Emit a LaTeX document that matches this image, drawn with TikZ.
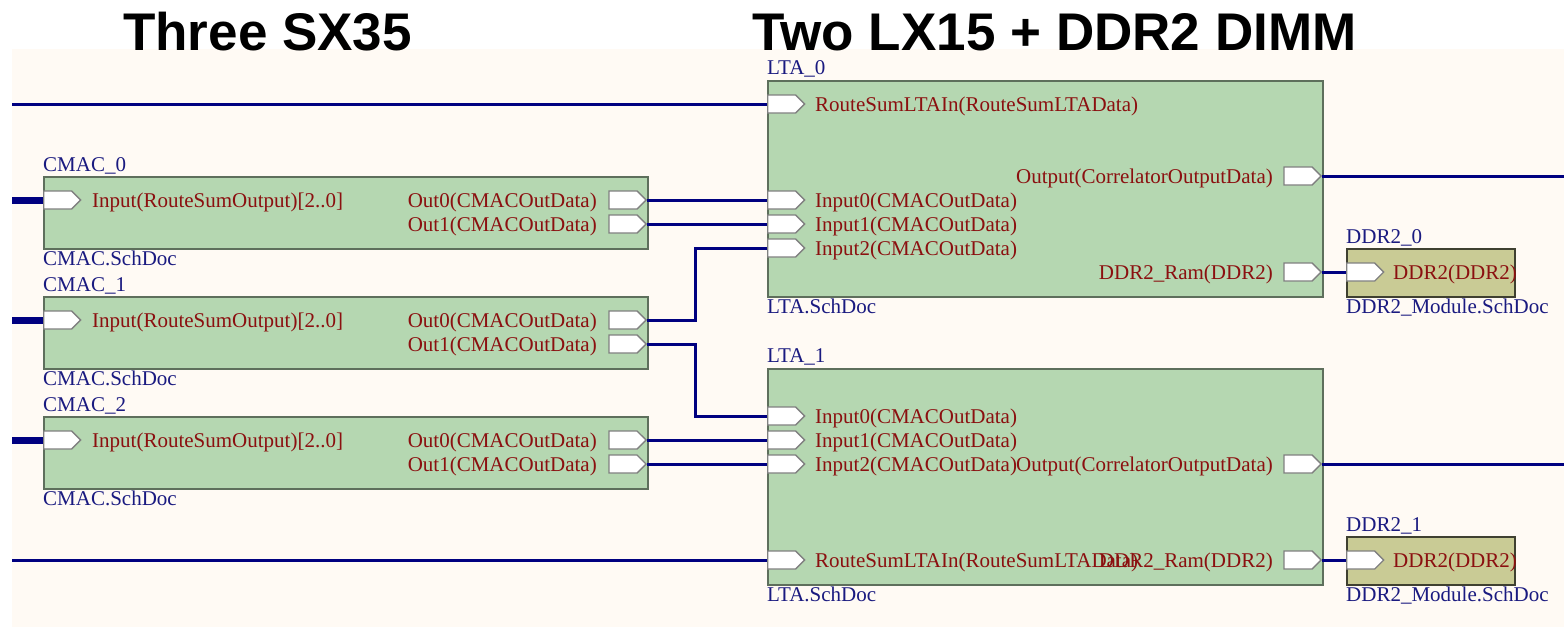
\documentclass[tikz,border=0pt]{standalone}
\usepackage{fontspec}
\setmainfont{Liberation Serif}
\newfontfamily\headfont{Liberation Sans}
\usetikzlibrary{shapes.symbols}

\definecolor{sheetbg}{HTML}{FFFAF4}
\definecolor{boxfill}{HTML}{B5D7B1}
\definecolor{boxline}{HTML}{5E6F5C}
\definecolor{ddrfill}{HTML}{C9CB95}
\definecolor{ddrline}{HTML}{3F4030}
\definecolor{portline}{HTML}{808080}
\definecolor{netblue}{HTML}{000080}
\definecolor{pinred}{HTML}{8B1010}
\definecolor{namenavy}{HTML}{1A1A80}

\begin{document}
\begin{tikzpicture}[x=1pt,y=-1pt,
  sheetbox/.style={draw=boxline, fill=boxfill, line width=1.8pt, inner sep=0pt,
    anchor=north west, minimum width=#1},
  cmacbox/.style={sheetbox=604pt, minimum height=72pt},
  ltabox/.style={sheetbox=555pt, minimum height=216pt},
  ddrbox/.style={draw=ddrline, fill=ddrfill, line width=1.8pt, inner sep=0pt,
    anchor=north west, minimum width=168pt, minimum height=48pt},
  port/.style={signal, signal to=east, signal pointer angle=90, draw=portline,
    fill=white, line width=1.3pt, inner sep=0pt, minimum width=37pt,
    minimum height=18pt},
  pintext/.style={text=pinred, inner sep=0pt, font=\fontsize{21}{21}\selectfont},
  sheetname/.style={text=namenavy, inner sep=0pt, anchor=base west,
    font=\fontsize{21}{21}\selectfont},
  heading/.style={inner sep=0pt, anchor=base west,
    font=\headfont\bfseries\fontsize{53}{53}\selectfont},
  wire/.style={draw=netblue, line width=3pt},
  bus/.style={draw=netblue, line width=7pt}
]
\useasboundingbox (0,0) rectangle (1564,627);
\fill[white] (0,0) rectangle (1564,627);
\fill[sheetbg] (12,49) rectangle (1564,627);

% headings
\node[heading] (headA) at (123,50) {Three SX35};
\node[heading] (headB) at (752,50) {Two LX15 + DDR2 DIMM};

% CMAC sheet symbols
\foreach \i in {0,1,2}{
  \pgfmathtruncatemacro\t{176+120*\i}
  \node[cmacbox] (cmac\i) at (43,\t) {};
  \node[sheetname] (cmac\i name) at (43,\t-5) {CMAC\_\i};
  \node[sheetname] (cmac\i file) at (43,\t+89) {CMAC.SchDoc};
  \node[port, anchor=west] (cmac\i in) at (43,\t+24) {};
  \node[pintext, anchor=base west] (cmac\i inT) at (92,\t+31) {Input(RouteSumOutput)[2..0]};
  \node[port, anchor=east] (cmac\i o0) at (647,\t+24) {};
  \node[port, anchor=east] (cmac\i o1) at (647,\t+48) {};
  \node[pintext, anchor=base east] (cmac\i o0T) at (597,\t+31) {Out0(CMACOutData)};
  \node[pintext, anchor=base east] (cmac\i o1T) at (597,\t+55) {Out1(CMACOutData)};
  \coordinate (bus\i) at (12,\t+24);
  \draw[bus] (bus\i) -- (cmac\i in.west);
}

% LTA_0
\node[ltabox] (lta0) at (767,80) {};
\node[sheetname] (lta0name) at (767,74) {LTA\_0};
\node[sheetname] (lta0file) at (767,313) {LTA.SchDoc};
\node[port, anchor=west] (l0rs) at (767,104) {};
\node[port, anchor=west] (l0i0) at (767,200) {};
\node[port, anchor=west] (l0i1) at (767,224) {};
\node[port, anchor=west] (l0i2) at (767,248) {};
\node[port, anchor=east] (l0out) at (1322,176) {};
\node[port, anchor=east] (l0ddr) at (1322,272) {};
\node[pintext, anchor=base west] (l0rsT) at (815,111) {RouteSumLTAIn(RouteSumLTAData)};
\node[pintext, anchor=base west] (l0i0T) at (815,207) {Input0(CMACOutData)};
\node[pintext, anchor=base west] (l0i1T) at (815,231) {Input1(CMACOutData)};
\node[pintext, anchor=base west] (l0i2T) at (815,255) {Input2(CMACOutData)};
\node[pintext, anchor=base east] (l0outT) at (1273,183) {Output(CorrelatorOutputData)};
\node[pintext, anchor=base east] (l0ddrT) at (1273,279) {DDR2\_Ram(DDR2)};

% LTA_1
\node[ltabox] (lta1) at (767,368) {};
\node[sheetname] (lta1name) at (767,362) {LTA\_1};
\node[sheetname] (lta1file) at (767,601) {LTA.SchDoc};
\node[port, anchor=west] (l1i0) at (767,416) {};
\node[port, anchor=west] (l1i1) at (767,440) {};
\node[port, anchor=west] (l1i2) at (767,464) {};
\node[port, anchor=west] (l1rs) at (767,560) {};
\node[port, anchor=east] (l1out) at (1322,464) {};
\node[port, anchor=east] (l1ddr) at (1322,560) {};
\node[pintext, anchor=base west] (l1i0T) at (815,423) {Input0(CMACOutData)};
\node[pintext, anchor=base west] (l1i1T) at (815,447) {Input1(CMACOutData)};
\node[pintext, anchor=base west] (l1i2T) at (815,471) {Input2(CMACOutData)};
\node[pintext, anchor=base west] (l1rsT) at (815,567) {RouteSumLTAIn(RouteSumLTAData)};
\node[pintext, anchor=base east] (l1outT) at (1273,471) {Output(CorrelatorOutputData)};
\node[pintext, anchor=base east] (l1ddrT) at (1273,567) {DDR2\_Ram(DDR2)};

% DDR2 modules
\foreach \j/\t in {0/248,1/536}{
  \node[ddrbox] (ddr\j) at (1346,\t) {};
  \node[sheetname] (ddr\j name) at (1346,\t-5) {DDR2\_\j};
  \node[sheetname] (ddr\j file) at (1346,\t+65) {DDR2\_Module.SchDoc};
  \node[port, anchor=west] (ddr\j p) at (1346,\t+24) {};
  \node[pintext, anchor=base west] (ddr\j pT) at (1393,\t+31) {DDR2(DDR2)};
}

% nets
\coordinate (rsin0) at (12,104);
\coordinate (rsin1) at (12,560);
\coordinate (corr0) at (1564,176);
\coordinate (corr1) at (1564,464);
\draw[wire] (rsin0) -- (l0rs.west);
\draw[wire] (rsin1) -- (l1rs.west);
\draw[wire] (cmac0o0.east) -- (l0i0.west);
\draw[wire] (cmac0o1.east) -- (l0i1.west);
\draw[wire] (cmac1o0.east) -- ++(48,0) |- (l0i2.west);
\draw[wire] (cmac1o1.east) -- ++(48,0) |- (l1i0.west);
\draw[wire] (cmac2o0.east) -- (l1i1.west);
\draw[wire] (cmac2o1.east) -- (l1i2.west);
\draw[wire] (l0out.east) -- (corr0);
\draw[wire] (l1out.east) -- (corr1);
\draw[wire] (l0ddr.east) -- (ddr0p.west);
\draw[wire] (l1ddr.east) -- (ddr1p.west);
\end{tikzpicture}
\end{document}
